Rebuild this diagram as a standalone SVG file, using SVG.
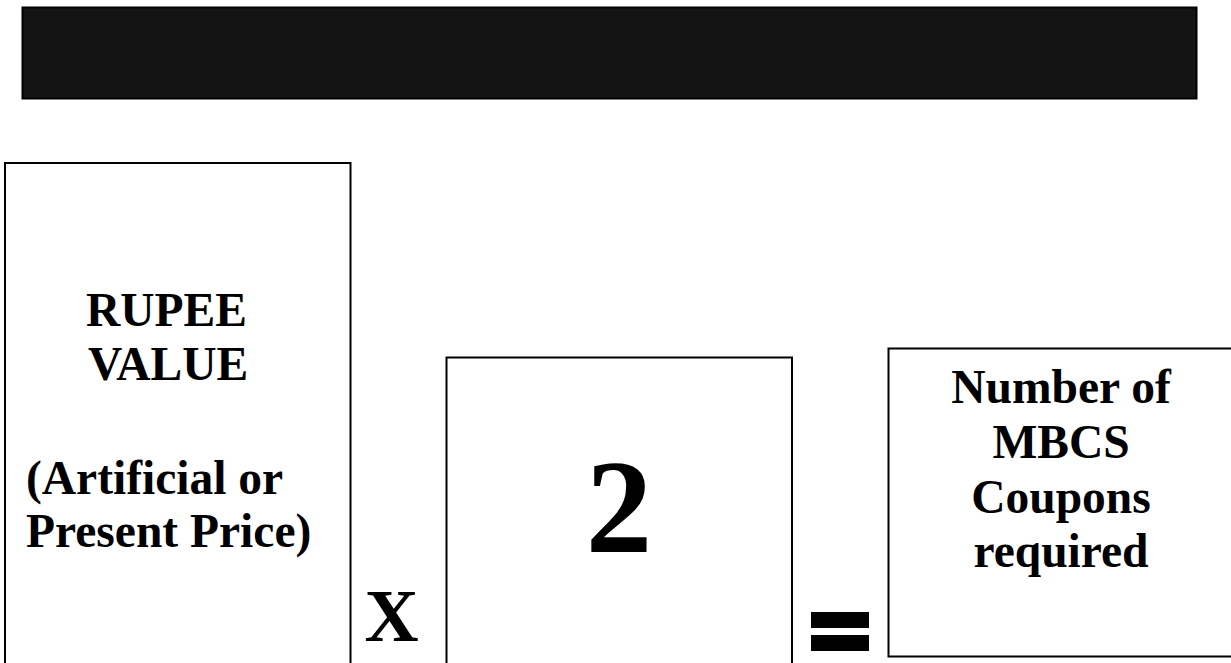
<svg xmlns="http://www.w3.org/2000/svg" width="1231" height="663" viewBox="0 0 1231 663">
<style>
.box{fill:#fff;stroke:#000;stroke-width:2}
.t{font-family:"Liberation Serif","Times New Roman",serif;font-weight:bold;fill:#000}
.lbl{font-size:47.5px}
.c{text-anchor:middle}
</style>
<rect width="1231" height="663" fill="#fff"/>
<g id="banner">
<rect x="22.5" y="7.5" width="1174" height="91" fill="#141414" stroke="#000" stroke-width="2"/>
</g>
<g id="rupee-value">
<rect class="box" x="5" y="163" width="345.5" height="520"/>
<text class="t lbl" x="86" y="326">RUPEE</text>
<text class="t lbl" x="88" y="380">VALUE</text>
<text class="t lbl" x="26" y="494">(Artificial or</text>
<text class="t lbl" x="26" y="547">Present Price)</text>
</g>
<g id="times">
<text class="t c" x="391.5" y="641" font-size="75">X</text>
</g>
<g id="two">
<rect class="box" x="446.5" y="357.5" width="345.5" height="330"/>
<text class="t c" x="619" y="552" font-size="133">2</text>
</g>
<g id="equals">
<rect x="811" y="612" width="58" height="16" fill="#000"/>
<rect x="811" y="635" width="58" height="16" fill="#000"/>
</g>
<g id="coupons">
<rect class="box" x="888.5" y="348.5" width="345" height="308"/>
<text class="t lbl c" x="1061" y="403">Number of</text>
<text class="t lbl c" x="1061" y="458">MBCS</text>
<text class="t lbl c" x="1061" y="513">Coupons</text>
<text class="t lbl c" x="1061" y="567">required</text>
</g>
<g id="connectors"></g>
</svg>
